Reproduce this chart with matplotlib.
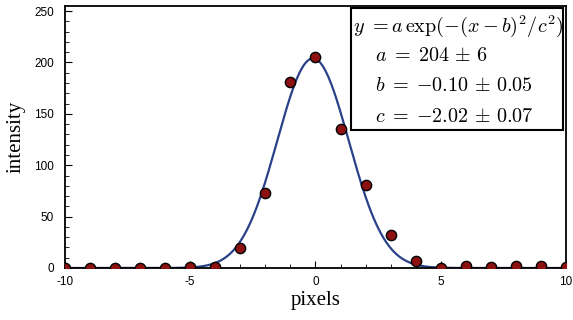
import matplotlib
matplotlib.use("Agg")
import matplotlib.pyplot as plt
import numpy as np
from matplotlib.patches import Rectangle
from matplotlib.ticker import MultipleLocator

# measured points
x_pix = [-10, -9, -8, -7, -6, -5, -4, -3, -2, -1, 0, 1, 2, 3, 4, 5, 6, 7, 8, 9, 10]
intensity = [0, 0, 0, 0, 0, 1, 1, 19, 73, 181, 205, 135, 81, 32, 7, 0, 2, 1, 2, 2, 1]

# fit parameters shown in the box
fit_a = 204
fit_b = -0.10
fit_c = -2.02

fit_lines = [
    r"$y\ {=}a\,\exp(-(x-b)^2/c^2)$",
    r"$a\;=\;204\,\pm\,6$",
    r"$b\;=\;{-0.10}\,\pm\,0.05$",
    r"$c\;=\;{-2.02}\,\pm\,0.07$",
]

plt.rcParams['mathtext.fontset'] = 'cm'
plt.rcParams['axes.unicode_minus'] = False

fig = plt.figure(figsize=(5.73, 3.2), dpi=100)
ax = fig.add_axes([0.1134, 0.1625, 0.8744, 0.8188])

xs = np.linspace(-10, 10, 400)
ax.plot(xs, fit_a * np.exp(-(xs - fit_b) ** 2 / fit_c ** 2), color='#2a4189', lw=1.6, zorder=2)
ax.plot(x_pix, intensity, 'o', ms=7.4, mfc='#8e1111', mec='black', mew=1.0, zorder=3)

ax.set_xlim(-10, 10)
ax.set_ylim(0, 255)
ax.xaxis.set_major_locator(MultipleLocator(5))
ax.xaxis.set_minor_locator(MultipleLocator(1))
ax.yaxis.set_major_locator(MultipleLocator(50))
ax.yaxis.set_minor_locator(MultipleLocator(10))
ax.tick_params(which='both', direction='in', top=False, right=False)
ax.tick_params(which='major', length=5, width=0.8, labelsize=8.5)
ax.tick_params(axis='y', which='major', pad=8)
ax.tick_params(axis='x', which='major', pad=6)
ax.tick_params(which='minor', length=3, width=0.6)
for lbl in ax.get_xticklabels() + ax.get_yticklabels():
    lbl.set_family('Liberation Sans')
for sp in ax.spines.values():
    sp.set_linewidth(1.3)

ax.set_xlabel('pixels', family='Liberation Serif', fontsize=15, labelpad=2)
ax.set_ylabel('intensity', family='Liberation Serif', fontsize=15, labelpad=6)

# fit result box
ax.add_patch(Rectangle((0.571, 0.527), 0.423, 0.465, transform=ax.transAxes,
                       fill=True, fc='white', ec='black', lw=1.5, zorder=4))
ax.text(0.575, 0.922, fit_lines[0], transform=ax.transAxes, fontsize=14.5,
        va='center', ha='left', zorder=5)
for i, line in enumerate(fit_lines[1:]):
    ax.text(0.619, 0.81 - i * 0.115, line, transform=ax.transAxes, fontsize=14.5,
            va='center', ha='left', zorder=5)

fig.savefig('out.png', dpi=100)
